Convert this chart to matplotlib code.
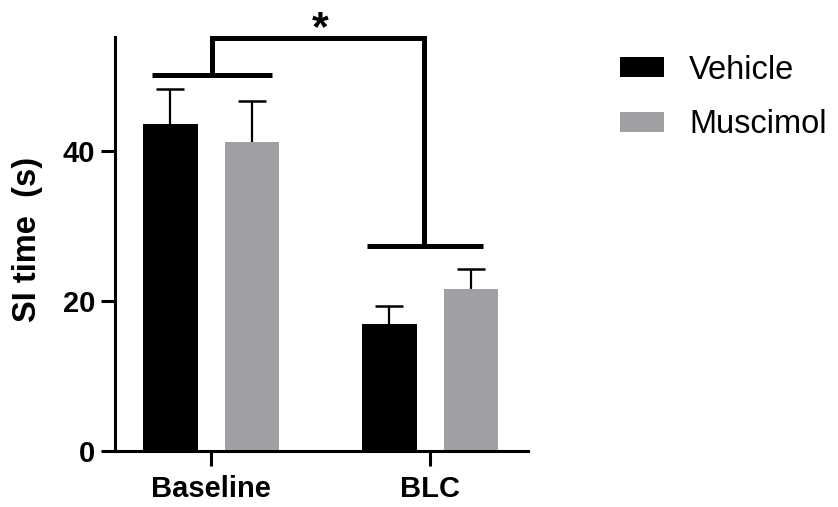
import matplotlib
matplotlib.use('Agg')
import matplotlib.pyplot as plt
import numpy as np

plt.rcParams['font.family'] = ['Liberation Sans', 'DejaVu Sans']

# group means and SEM (s)
groups = ['Baseline', 'BLC']
vehicle = [43.6, 17.0]
vehicle_err = [4.7, 2.4]
muscimol = [41.2, 21.7]
muscimol_err = [5.5, 2.6]

# significance bracket heights
bracket_left = 50.2
bracket_right = 27.4
bracket_top = 55.1

fig = plt.figure(figsize=(8.38, 5.07), dpi=100)
ax = fig.add_axes([0.1369, 0.1095, 0.4932, 0.8136])

x = np.arange(len(groups))
off = 0.187
w = 0.25
gray = '#a09fa4'

ax.bar(x - off, vehicle, width=w, color='black', label='Vehicle', zorder=2)
ax.bar(x + off, muscimol, width=w, color=gray, label='Muscimol', zorder=2)

# upper error bars only
for xs, means, errs in [(x - off, vehicle, vehicle_err), (x + off, muscimol, muscimol_err)]:
    tops = np.array(means) + np.array(errs)
    ax.vlines(xs, means, tops, color='black', lw=1.6, zorder=3)
    ax.plot(xs, tops, ls='none', marker='_', ms=19.5, mew=1.8, color='black', zorder=3)

# bracket between the two groups
lw = 3.6
hw = 0.27
ax.plot([x[0] - hw, x[0] + hw + 0.01], [bracket_left] * 2, color='black', lw=lw,
        solid_capstyle='butt', clip_on=False)
ax.plot([x[1] - hw - 0.02, x[1] + hw - 0.03], [bracket_right] * 2, color='black', lw=lw,
        solid_capstyle='butt', clip_on=False)
ax.plot([x[0] + 0.005, x[0] + 0.005, x[1] - 0.027, x[1] - 0.027],
        [bracket_left, bracket_top, bracket_top, bracket_right],
        color='black', lw=lw, solid_joinstyle='miter', clip_on=False)
ax.text((x[0] + x[1]) / 2, 54.9, '*', ha='center', va='baseline',
        fontsize=31, fontweight='bold')

ax.set_xlim(-0.44, 1.447)
ax.set_ylim(0, 55)
ax.spines['left'].set_bounds(0, 55.3)
ax.set_yticks([0, 20, 40])
ax.set_xticks(x)
ax.set_xticklabels(groups)
for s in ['top', 'right']:
    ax.spines[s].set_visible(False)
for s in ['left', 'bottom']:
    ax.spines[s].set_linewidth(2.2)
ax.tick_params(axis='y', length=10, width=2.2, pad=4, labelsize=21)
ax.tick_params(axis='x', length=11, width=2.2, pad=6, labelsize=21)
for lab in ax.get_xticklabels() + ax.get_yticklabels():
    lab.set_fontweight('bold')

ax.set_ylabel('SI time  (s)', fontsize=23.5, fontweight='bold')
ax.yaxis.set_label_coords(-0.173, 0.513)

fig.legend(loc='upper left', bbox_to_anchor=(0.74, 0.892), frameon=False,
           fontsize=23.5, handlelength=1.35, handleheight=0.55,
           handletextpad=0.77, labelspacing=0.72, borderpad=0, borderaxespad=0)

fig.savefig('out.png', dpi=100)
